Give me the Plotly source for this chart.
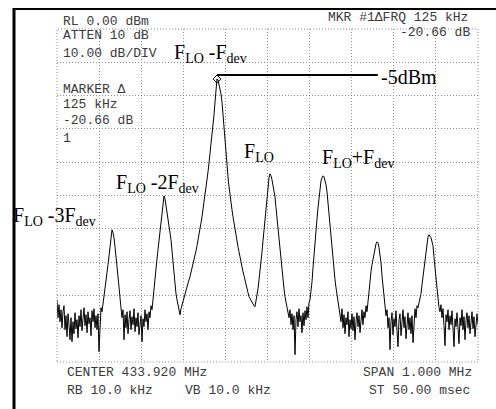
import numpy as np
import plotly.graph_objects as go

# ---------------- instrument settings ----------------
center_mhz = 433.920
span_mhz = 1.000
ref_level_dbm = 0.0
db_per_div = 10.0
n_div = 10

# ---------------- trace levels (dBm), sweep left -> right ----------------
levels_dbm = [
    # noise, left edge
    -81.3, -86.7, -82.8, -87.9, -84.3, -89.7, -84.9, -83.1, -90.3, -86.1,
    -92.4, -85.5, -88.8, -93.3, -86.7, -93.9, -87.9, -91.5, -85.2, -90.0,
    -87.3, -92.7, -86.1, -89.4, -84.3, -90.6, -87.0, -83.7, -89.1, -85.8,
    -91.2, -84.9, -88.5, -86.7, -92.1, -84.6, -87.9, -84.0, -89.7, -86.1,
    -90.3, -85.5, -96.9, -87.3, -83.7, -84.9, -82.2,
    # F_LO - 3F_dev
    -80.7, -78.3, -75.9, -73.2, -70.8, -67.8, -64.8, -62.1, -60.3, -61.2,
    -62.7, -65.4, -68.1, -70.5, -74.1, -77.4, -80.7, -83.1,
    # noise
    -86.7, -84.3, -93.3, -85.8, -89.7, -84.9, -91.5, -87.3, -84.6, -90.3,
    -86.4, -88.8, -84.0, -90.9, -86.7, -89.4, -85.2, -91.8, -87.6, -86.1,
    -93.9, -87.0, -89.4, -84.3, -87.9, -85.5, -90.3, -84.9, -86.7, -83.1,
    -84.3,
    # F_LO - 2F_dev
    -80.7, -77.7, -74.4, -71.7, -69.0, -66.3, -63.3, -60.3, -57.3, -54.3,
    -51.6, -50.1, -51.0, -53.1, -55.2, -57.3, -59.1, -60.6, -63.3, -66.6,
    -70.2, -73.5, -76.8, -79.5, -81.3, -82.8, -84.6, -85.8,
    # F_LO - F_dev (left flank)
    -84.0, -82.8, -81.6, -80.7, -79.5, -78.6, -77.4, -76.5, -75.3, -74.4,
    -73.2, -72.3, -71.1, -69.9, -68.1, -66.6, -65.1, -63.6, -61.8, -60.3,
    -58.2, -56.4, -54.3, -52.5, -50.4, -48.0, -45.3, -42.9, -40.2, -37.5,
    -35.1, -32.4, -29.4, -25.8, -21.9, -18.0, -15.0, -15.3,
    # F_LO - F_dev (right flank)
    -16.5, -18.0, -19.5, -21.9, -26.1, -30.3, -33.6, -36.9, -41.1, -44.4,
    -47.4, -50.4, -52.5, -54.3, -56.4, -58.5, -60.3, -62.1, -63.6, -65.4,
    -66.9, -68.7, -70.5, -71.7, -72.9, -74.1, -75.6, -76.8, -78.0, -79.2,
    -80.4, -81.0, -81.6, -82.2, -82.8, -83.1, -83.4,
    # F_LO
    -81.9, -80.1, -78.0, -75.3, -72.9, -70.2, -66.9, -63.6, -60.3, -57.0,
    -53.7, -50.4, -47.1, -44.7, -43.5, -44.1, -45.3, -47.1, -48.9, -50.4,
    -53.7, -57.0, -60.3, -63.6, -66.9, -70.2, -72.9, -75.6, -78.0, -80.4,
    -82.2, -84.0, -85.5,
    # noise
    -86.7, -84.3, -88.8, -85.5, -90.3, -86.1, -97.8, -87.3, -84.9, -89.4,
    -84.0, -87.9, -86.1, -91.2, -85.2, -89.1, -84.6, -87.3, -83.4, -86.7,
    -82.2, -81.3,
    # F_LO + F_dev
    -79.2, -75.9, -71.7, -67.2, -63.9, -60.3, -57.0, -53.7, -50.4, -47.7,
    -45.6, -44.7, -44.1, -44.4, -45.3, -46.8, -48.9, -52.2, -56.1, -60.6,
    -63.9, -67.2, -70.2, -72.9, -75.3, -77.7, -79.8, -81.6, -83.1,
    # noise
    -84.9, -87.9, -84.0, -89.7, -85.8, -91.5, -86.7, -88.8, -84.9, -92.4,
    -87.3, -90.0, -85.5, -90.6, -86.4, -93.3, -87.9, -85.2, -89.4, -86.1,
    -91.2, -87.0, -84.3, -88.8, -84.9, -86.7, -83.1, -84.9, -81.3,
    # F_LO + 2F_dev
    -78.3, -75.6, -72.9, -70.8, -69.0, -67.5, -65.7, -64.5, -63.9, -64.2,
    -65.7, -67.5, -70.2, -74.1, -77.7, -80.7, -83.1,
    # noise
    -86.1, -84.3, -89.7, -86.7, -96.3, -87.9, -85.2, -91.8, -87.0, -89.4,
    -84.6, -90.6, -95.4, -87.3, -85.5, -92.1, -87.9, -84.3, -89.7, -86.4,
    -93.0, -87.6, -85.2, -90.3, -86.7, -91.5, -86.1, -94.2, -87.3, -84.0,
    -86.7, -83.1, -83.7,
    # F_LO + 3F_dev
    -82.2, -80.7, -79.5, -76.8, -74.1, -71.4, -68.7, -66.0, -63.9, -62.4,
    -61.8, -62.1, -62.7, -63.9, -65.1, -68.7, -71.7, -75.0, -78.6, -81.9,
    -83.7,
    # noise, right edge
    -84.9, -82.8, -86.7, -84.0, -89.1, -95.1, -85.8, -87.9, -84.3, -90.3,
    -86.1, -88.8, -84.6, -91.2, -95.4, -87.0, -89.4, -85.2, -91.8, -94.5,
    -86.7, -89.1, -84.3, -90.3, -86.4, -93.3, -87.6, -85.2, -89.7, -86.1,
    -91.5, -87.3, -84.9, -90.0, -86.4, -92.4, -87.9, -85.5, -88.8,
]

# sweep frequencies of the trace points (uniform sweep across the span)
n_pts = len(levels_dbm)
f_start = center_mhz - span_mhz / 2
f_stop = center_mhz + span_mhz / 2
freq_mhz = np.linspace(f_start, f_stop, n_pts)

# screen annotation texts (HP analyzer readouts)
screen_texts_left = ["RL 0.00 dBm", "ATTEN 10 dB", "10.00 dB/DIV",
                     "MARKER \u0394", "125 kHz", "-20.66 dB", "1",
                     "CENTER 433.920 MHz", "RB 10.0 kHz", "VB 10.0 kHz",
                     "SPAN 1.000 MHz", "ST 50.00 msec", "MKR #1\u0394FRQ 125 kHz"]
screen_texts_right = ["-20.66 dB"]

peak_labels = ["F<sub>LO</sub> -3F<sub>dev</sub>",
               "F<sub>LO</sub> -2F<sub>dev</sub>",
               "F<sub>LO</sub> -F<sub>dev</sub>",
               "F<sub>LO</sub>",
               "F<sub>LO</sub>+F<sub>dev</sub>"]
marker_label = "-5dBm"
marker_line_end_mhz = 434.182

# ---------------- figure ----------------
W, H = 496, 409
L, R, T, B = 57, 478, 29, 362  # plot area in pixels


def px(x):
    return (x - L) / (R - L)


def py(y):
    return (B - y) / (B - T)


fig = go.Figure()
fig.add_trace(go.Scatter(x=freq_mhz, y=levels_dbm, mode="lines",
                         line=dict(color="black", width=1),
                         hoverinfo="skip", showlegend=False))

ipk = int(np.argmax(levels_dbm))
fig.add_trace(go.Scatter(x=[freq_mhz[ipk]], y=[levels_dbm[ipk]], mode="markers",
                         marker=dict(symbol="diamond-open", size=6,
                                     color="black", line=dict(width=1)),
                         hoverinfo="skip", showlegend=False))

grid_dash = "1px,2px"
grid_col = "#8f8f8f"
fig.update_xaxes(range=[f_start, f_stop],
                 tickvals=[f_start + span_mhz * k / n_div for k in range(1, n_div)],
                 showticklabels=False, ticks="", showgrid=True,
                 gridcolor=grid_col, gridwidth=1, griddash=grid_dash,
                 zeroline=False, showline=False, fixedrange=True)
bottom = ref_level_dbm - n_div * db_per_div
fig.update_yaxes(range=[bottom, ref_level_dbm],
                 tickvals=[bottom + db_per_div * k for k in range(1, n_div)],
                 showticklabels=False, ticks="", showgrid=True,
                 gridcolor=grid_col, gridwidth=1, griddash=grid_dash,
                 zeroline=False, showline=False, fixedrange=True)

shapes = []
# graticule outline (dotted)
shapes.append(dict(type="rect", xref="paper", yref="paper", x0=0, x1=1, y0=0, y1=1,
                   line=dict(color=grid_col, width=1, dash=grid_dash)))
# outer frame: thick left edge and top edge
shapes.append(dict(type="line", xref="paper", yref="paper",
                   x0=px(14), x1=px(14), y0=py(8), y1=py(412),
                   line=dict(color="black", width=3)))
shapes.append(dict(type="line", xref="paper", yref="paper",
                   x0=px(13), x1=px(500), y0=py(9), y1=py(9),
                   line=dict(color="black", width=2)))
# marker reference line
mk_y = levels_dbm[ipk] + 1.2
shapes.append(dict(type="line", xref="x", yref="y",
                   x0=freq_mhz[ipk], x1=marker_line_end_mhz, y0=mk_y, y1=mk_y,
                   line=dict(color="black", width=2)))

mono = dict(family="Liberation Mono", size=13, color="#3a3a3a")
serif = dict(family="Liberation Serif", size=20, color="black")

ann = []
left_pos = [(62, 21), (62, 36), (62, 54), (62, 89), (62, 104.5), (62, 120.5), (62, 138),
            (66, 372), (66, 390), (184, 390), (362, 372), (368, 390), (327, 18)]
for t, (x, y) in zip(screen_texts_left, left_pos):
    ann.append(dict(text=t, x=px(x), y=py(y), xref="paper", yref="paper",
                    xanchor="left", yanchor="middle", showarrow=False, font=mono,
                    borderpad=0))
for t in screen_texts_right:
    ann.append(dict(text=t, x=px(471), y=py(33), xref="paper", yref="paper",
                    xanchor="right", yanchor="middle", showarrow=False, font=mono,
                    borderpad=0))

label_pos = [(11, 216), (114, 184), (172, 54), (242, 152), (320, 158)]
for t, (x, y) in zip(peak_labels, label_pos):
    ann.append(dict(text=t, x=px(x), y=py(y), xref="paper", yref="paper",
                    xanchor="left", yanchor="middle", showarrow=False, font=serif))
ann.append(dict(text=marker_label, x=px(379), y=py(77), xref="paper", yref="paper",
                xanchor="left", yanchor="middle", showarrow=False, font=serif))

fig.update_layout(width=W, height=H, margin=dict(l=L, r=W - R, t=T, b=H - B),
                  paper_bgcolor="white", plot_bgcolor="white",
                  shapes=shapes, annotations=ann, showlegend=False)

fig.write_html("out.html", config={"displayModeBar": False},
               post_script="document.body.style.margin='0';"
                           "document.body.style.overflow='hidden';")
